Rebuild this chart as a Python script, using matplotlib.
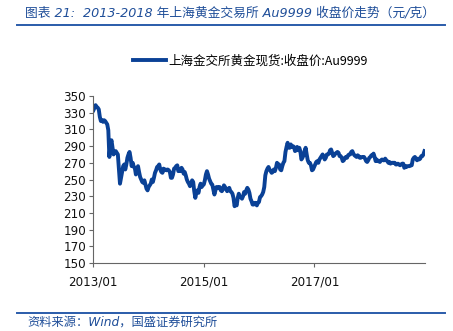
import numpy as np
import pandas as pd
import matplotlib
matplotlib.use("Agg")
from matplotlib import pyplot as plt
from matplotlib.lines import Line2D

plt.rcParams['font.family'] = ['DejaVu Sans', 'Noto Sans CJK SC']

# SGE Au9999 weekly close (yuan/gram), Friday of each week
au_2013 = [333, 336, 339, 337, 336, 334, 325, 320, 321, 319, 321, 320, 318,
           316, 309, 277, 292, 297, 288, 280, 283, 284, 282, 280, 262, 245,
           252, 259, 266, 268, 262, 268, 276, 280, 283, 276, 266, 270, 265,
           264, 256, 261, 266, 259, 253, 250, 247, 246, 249, 244, 239, 237]
au_2014 = [241, 243, 245, 250, 247, 252, 258, 261, 265, 266, 268, 262, 259,
           258, 263, 261, 262, 261, 262, 261, 259, 252, 252, 256, 263, 264,
           266, 267, 260, 262, 260, 264, 262, 257, 259, 255, 250, 247, 245,
           242, 245, 249, 247, 236, 228, 234, 237, 234, 241, 245, 241, 243]
au_2015 = [244, 249, 256, 260, 256, 251, 248, 245, 244, 238, 232, 237, 241,
           241, 240, 241, 237, 236, 238, 243, 241, 239, 236, 238, 240, 236,
           235, 233, 228, 218, 221, 219, 228, 233, 229, 229, 227, 230, 235,
           233, 237, 240, 238, 234, 227, 224, 220, 220, 222, 222, 219, 222]
au_2016 = [223, 229, 230, 232, 235, 241, 255, 260, 263, 265, 262, 260, 258,
           259, 262, 260, 264, 270, 268, 268, 262, 261, 266, 270, 272, 283,
           289, 294, 288, 288, 292, 289, 290, 289, 284, 285, 289, 285, 288,
           284, 274, 276, 279, 284, 288, 280, 273, 270, 270, 267, 261, 262, 265]
au_2017 = [268, 271, 272, 270, 274, 276, 278, 280, 277, 274, 276, 280, 280,
           281, 285, 286, 282, 278, 279, 281, 282, 283, 282, 278, 278, 276,
           272, 273, 276, 277, 276, 279, 280, 280, 283, 284, 281, 279, 278,
           277, 279, 278, 276, 276, 277, 277, 277, 275, 272, 271, 273, 276]
au_2018 = [277, 279, 279, 281, 277, 272, 274, 272, 272, 271, 273, 274, 273,
           273, 275, 273, 272, 270, 271, 269, 270, 270, 270, 270, 268, 268,
           269, 268, 267, 268, 269, 269, 264, 266, 265, 266, 266, 266, 267,
           267, 274, 276, 277, 275, 273, 275, 274, 275, 278, 278, 280, 284]

close = au_2013 + au_2014 + au_2015 + au_2016 + au_2017 + au_2018
dates = pd.date_range('2013-01-04', periods=len(close), freq='W-FRI')

y_ticks = list(range(150, 351, 20))
x_ticks = ['2013-01-01', '2015-01-01', '2017-01-01']
x_labels = ['2013/01', '2015/01', '2017/01']

title = '图表 21:  2013-2018 年上海黄金交易所 Au9999 收盘价走势（元/克）'
legend_label = '上海金交所黄金现货:收盘价:Au9999'
source = '资料来源：Wind，国盛证券研究所'

line_color = '#0a4196'
blue = '#1f4e99'

fig = plt.figure(figsize=(4.53, 3.31), dpi=100)
ax = fig.add_axes([0.2053, 0.2054, 0.938 - 0.2053, 0.71 - 0.2054])

ax.plot(dates, close, color=line_color, linewidth=2.8, solid_joinstyle='round')

ax.set_ylim(150, 350)
ax.set_yticks(y_ticks)
ax.set_xlim(pd.Timestamp('2013-01-01'), pd.Timestamp('2018-12-31'))
ax.set_xticks(pd.to_datetime(x_ticks))
ax.set_xticklabels(x_labels)

for s in ['top', 'right']:
    ax.spines[s].set_visible(False)
for s in ['left', 'bottom']:
    ax.spines[s].set_color('#666666')
    ax.spines[s].set_linewidth(0.8)
ax.tick_params(axis='both', length=3, width=0.8, color='#666666',
               labelsize=8.6, labelcolor='#111111')
ax.tick_params(axis='y', pad=2)
ax.tick_params(axis='x', pad=6)

handle = Line2D([], [], color=line_color, linewidth=2.8)
fig.legend([handle], [legend_label], loc='center left',
           bbox_to_anchor=(133 / 453, 1 - 61 / 331), frameon=False,
           borderpad=0, borderaxespad=0, handlelength=2.6, handletextpad=0.25,
           prop={'family': ['Noto Sans CJK SC', 'DejaVu Sans'], 'size': 9})

# header and footer
fig.text(25 / 453, 1 - 13 / 331, title, color=blue, fontsize=9.2,
         style='italic', ha='left', va='center')
fig.add_artist(Line2D([17 / 453, 445 / 453], [1 - 25 / 331, 1 - 25 / 331],
                      color='#2a5caa', linewidth=1.4))
fig.add_artist(Line2D([17 / 453, 445 / 453], [1 - 313 / 331, 1 - 313 / 331],
                      color='#2a5caa', linewidth=1.4))
fig.text(27 / 453, 1 - 322 / 331, source, color=blue, fontsize=8.8,
         style='italic', ha='left', va='center')

fig.savefig('out.png', dpi=100)
